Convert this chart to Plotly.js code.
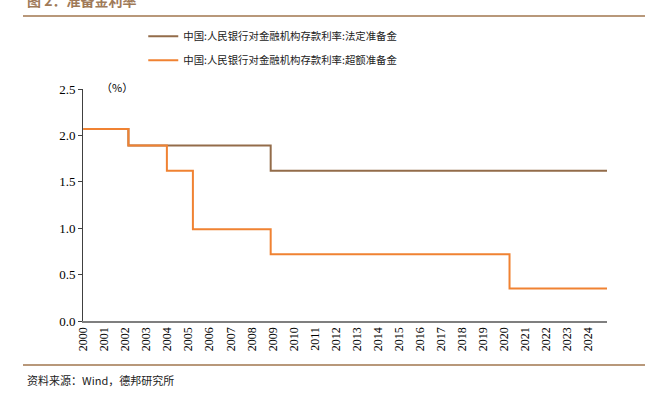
<!DOCTYPE html>
<html>
<head>
<meta charset="utf-8">
<script src="https://cdn.plot.ly/plotly-3.0.1.min.js"></script>
<style>html,body{margin:0;padding:0;background:#fff;}#chart{width:649px;height:399px;}</style>
</head>
<body>
<div id="chart"></div>
<script>
// Legal reserve rate (法定准备金) change dates and values
const legalDates = ['2000-01-01','2002-02-21','2008-11-27','2024-11-25'];
const legalValues = [2.07, 1.89, 1.62, 1.62];
// Excess reserve rate (超额准备金) change dates and values
const excessDates = ['2000-01-01','2002-02-21','2003-12-21','2005-03-17','2008-11-27','2020-04-07','2024-11-25'];
const excessValues = [2.07, 1.89, 1.62, 0.99, 0.72, 0.35, 0.35];
const seriesNames = ['中国:人民银行对金融机构存款利率:法定准备金','中国:人民银行对金融机构存款利率:超额准备金'];
const years = [];
for (let y = 2000; y <= 2024; y++) years.push(String(y));
const yearTicks = years.map(y => y + '-01-01');

const cjk = '"Noto Sans CJK SC", "Noto Sans", sans-serif';
const serif = '"Liberation Serif", "Times New Roman", serif';

const traces = [
  {x: legalDates, y: legalValues, name: seriesNames[0], type: 'scatter', mode: 'lines',
   line: {shape: 'hv', color: '#936c4a', width: 2}, legendgroup: 'a'},
  {x: excessDates, y: excessValues, name: seriesNames[1], type: 'scatter', mode: 'lines',
   line: {shape: 'hv', color: '#f08232', width: 2}, legendgroup: 'b'}
];

const layout = {
  width: 649, height: 399,
  margin: {l: 83, r: 42, t: 89, b: 78},
  paper_bgcolor: '#fff', plot_bgcolor: '#fff',
  showlegend: true,
  legend: {x: 0.115, y: 1.29, xanchor: 'left', yanchor: 'top', orientation: 'v',
    traceorder: 'grouped', tracegroupgap: 5,
    font: {family: cjk, size: 10.4, color: '#222'}, bgcolor: 'rgba(0,0,0,0)'},
  xaxis: {type: 'date', range: ['1999-12-25','2024-11-25'],
    tickvals: yearTicks, ticktext: years, tickangle: -90,
    tickfont: {family: serif, size: 12, color: '#000'},
    showgrid: false, zeroline: false, showline: true, linecolor: '#7f7f7f', linewidth: 1.5,
    ticks: '', fixedrange: true},
  yaxis: {range: [0, 2.5], tickvals: [0, 0.5, 1, 1.5, 2, 2.5], tickformat: '.1f',
    tickfont: {family: serif, size: 13, color: '#000'},
    showgrid: false, zeroline: false, showline: true, linecolor: '#404040', linewidth: 1,
    ticks: 'outside', ticklen: 4, tickcolor: '#404040', fixedrange: true},
  shapes: [
    {type: 'line', xref: 'paper', yref: 'paper', x0: -0.1145, x1: 1.0725, y0: 1.3147, y1: 1.3147,
     line: {color: '#b8987a', width: 2}},
    {type: 'line', xref: 'paper', yref: 'paper', x0: -0.1145, x1: 1.0725, y0: -0.1897, y1: -0.1897,
     line: {color: '#b8987a', width: 2}}
  ],
  annotations: [
    {text: '<b>图 2：准备金利率</b>', xref: 'paper', yref: 'paper', x: -0.11, y: 1.383,
     xanchor: 'left', yanchor: 'middle', showarrow: false,
     font: {family: cjk, size: 14, color: '#a07a58'}},
    {text: '（%）', xref: 'paper', yref: 'paper', x: 0.03, y: 1.01,
     xanchor: 'left', yanchor: 'middle', showarrow: false,
     font: {family: cjk, size: 11, color: '#000'}},
    {text: '资料来源：Wind，德邦研究所', xref: 'paper', yref: 'paper', x: -0.11, y: -0.255,
     xanchor: 'left', yanchor: 'middle', showarrow: false,
     font: {family: cjk, size: 11, color: '#222'}}
  ]
};

Plotly.newPlot('chart', traces, layout, {displayModeBar: false, staticPlot: true});
</script>
</body>
</html>
